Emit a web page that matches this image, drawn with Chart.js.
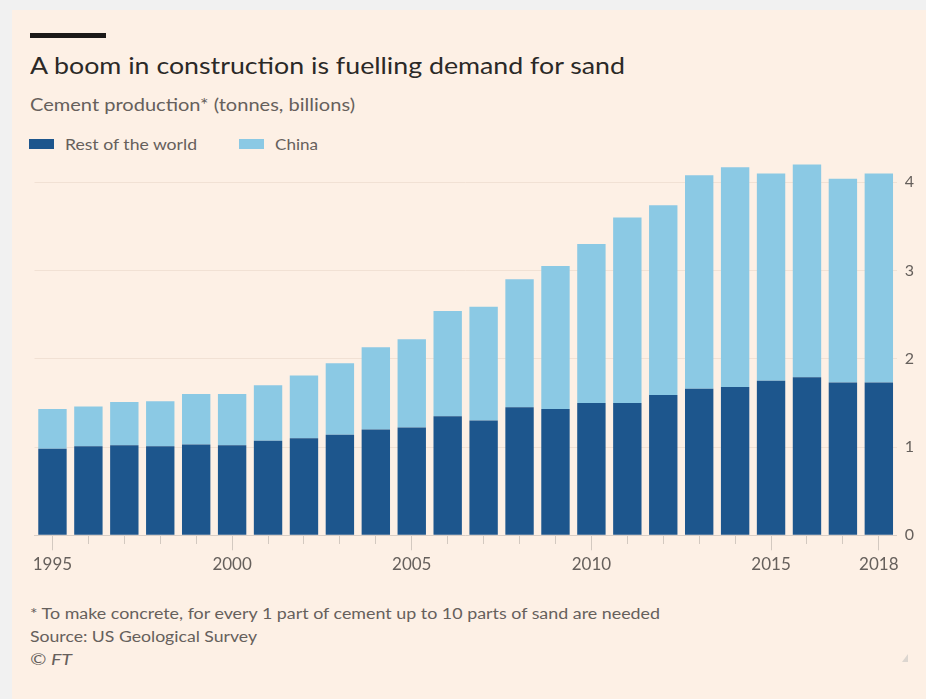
<!DOCTYPE html>
<html>
<head>
<meta charset="utf-8">
<script src="https://cdn.jsdelivr.net/npm/chart.js@4.4.1/dist/chart.umd.min.js"></script>
<style>
  html, body { margin: 0; padding: 0; }
  body { width: 926px; height: 699px; background: #f1f1f1; position: relative; overflow: hidden; font-family: Lato, "Open Sans", sans-serif; }
  #card { position: absolute; left: 12px; top: 10px; width: 914px; height: 689px; background: #fdf0e5; }
  .abs { position: absolute; white-space: nowrap; line-height: 1; transform-origin: 0 50%; display: inline-block; }
  #rule { position: absolute; left: 30px; top: 33px; width: 76px; height: 5px; background: #1b1918; }
  #title { left: 30px; top: 53px; font-size: 24px; color: #2b2927; }
  #subtitle { left: 30px; top: 97px; font-size: 16.5px; color: #66605c; }
  .sw { position: absolute; width: 25px; height: 10px; }
  .leg { font-size: 16px; color: #66605c; top: 136px; }
  .foot { left: 30px; font-size: 15.5px; color: #66605c; }
  #chartbox { position: absolute; left: 0; top: 150px; width: 926px; height: 450px; }
  #grip { position: absolute; left: 902px; top: 654px; width: 0; height: 0; border-left: 6px solid transparent; border-bottom: 8px solid #dcd6d0; }
</style>
</head>
<body>
<div id="card"></div>
<div id="rule"></div>
<div id="title" class="abs" data-w="595">A boom in construction is fuelling demand for sand</div>
<div id="subtitle" class="abs" data-w="325">Cement production* (tonnes, billions)</div>
<div class="sw" style="left:29px;top:139px;background:#1d568d"></div>
<div class="abs leg" style="left:65px" data-w="132">Rest of the world</div>
<div class="sw" style="left:239px;top:139px;background:#8bc9e4"></div>
<div class="abs leg" style="left:275px" data-w="43">China</div>
<div id="chartbox"><canvas id="c"></canvas></div>
<div class="abs foot" style="top:606px" data-w="630">* To make concrete, for every 1 part of cement up to 10 parts of sand are needed</div>
<div class="abs foot" style="top:629px" data-w="227">Source: US Geological Survey</div>
<div class="abs foot" style="top:652px;font-style:italic" data-w="42">© FT</div>
<div id="grip"></div>
<script>
// ---- data ----
const years = ['1995','1996','1997','1998','1999','2000','2001','2002','2003','2004','2005','2006',
               '2007','2008','2009','2010','2011','2012','2013','2014','2015','2016','2017','2018'];
const restOfWorld = [0.98,1.01,1.02,1.01,1.03,1.02,1.07,1.10,1.14,1.20,1.22,1.35,
                     1.30,1.45,1.43,1.50,1.50,1.59,1.66,1.68,1.75,1.79,1.73,1.73];
const china = [0.45,0.45,0.49,0.51,0.57,0.58,0.63,0.71,0.81,0.93,1.00,1.19,
               1.29,1.45,1.62,1.80,2.10,2.15,2.42,2.49,2.35,2.41,2.31,2.37];
const xTickLabels = ['1995','2000','2005','2010','2015','2018'];
const yTicks = [0,1,2,3,4];

// fit texts to reference widths
document.querySelectorAll('[data-w]').forEach(el => {
  const w = el.getBoundingClientRect().width;
  const t = parseFloat(el.dataset.w);
  if (w > 0) el.style.transform = 'scaleX(' + (t / w) + ')';
});

const grey = '#66605c';
new Chart(document.getElementById('c'), {
  type: 'bar',
  data: {
    labels: years,
    datasets: [
      { label: 'Rest of the world', data: restOfWorld, backgroundColor: '#1d568d', borderWidth: 0 },
      { label: 'China', data: china, backgroundColor: '#8bc9e4', borderWidth: 0 }
    ]
  },
  options: {
    responsive: true,
    maintainAspectRatio: false,
    animation: false,
    layout: { padding: { left: 34.5, right: 0, top: 10.2, bottom: 0 } },
    datasets: { bar: { barPercentage: 0.79, categoryPercentage: 1 } },
    plugins: { legend: { display: false }, tooltip: { enabled: false } },
    scales: {
      x: {
        stacked: true,
        offset: true,
        grid: {
          offset: false,
          drawOnChartArea: false,
          tickLength: 15,
          tickColor: '#d3c9c0',
          tickBorderDash: (ctx) => xTickLabels.includes(years[ctx.index]) ? [] : [8, 100]
        },
        border: { display: true, color: '#d8cec6' },
        ticks: {
          autoSkip: false, maxRotation: 0, padding: 4,
          color: grey, font: { family: 'Lato', size: 17 },
          callback: (v, i) => xTickLabels.includes(years[i]) ? years[i] : ''
        },
        afterFit: (s) => { s.height = 64.7; s.paddingLeft = 0; s.paddingRight = 0; }
      },
      y: {
        stacked: true,
        position: 'right',
        min: 0, max: 4.25,
        grid: { color: '#f1e1d4', drawTicks: false },
        border: { display: false },
        ticks: {
          stepSize: 1, includeBounds: false, padding: 8,
          color: grey, font: { family: 'Lato', size: 16 },
          callback: (v) => yTicks.includes(v) ? String(v) : ''
        },
        afterFit: (s) => { s.width = 29.2; s.paddingTop = 0; s.paddingBottom = 0; }
      }
    }
  }
});
</script>
</body>
</html>
